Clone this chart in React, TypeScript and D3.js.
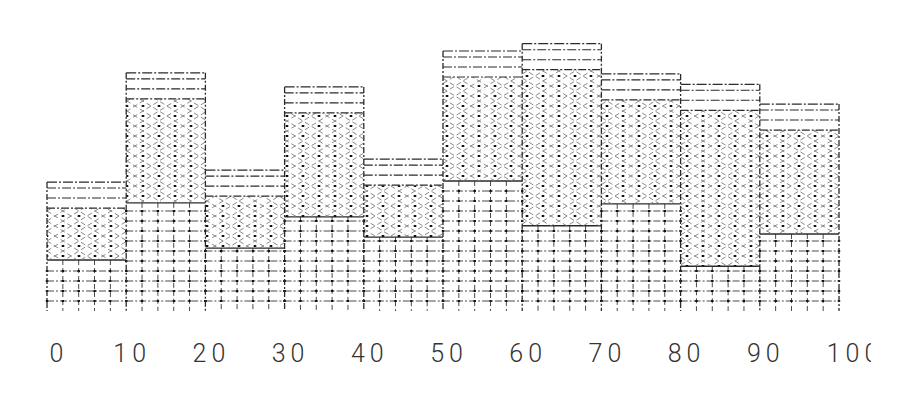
import React from "react";
import * as d3 from "d3";

// Bin edges and tick labels
const binEdges = [0, 10, 20, 30, 40, 50, 60, 70, 80, 90, 100];
const tickLabels = ["0", "10", "20", "30", "40", "50", "60", "70", "80", "90", "100"];
// Stacked series (bottom -> top)
const gridSeries = [9.8, 20.8, 12.1, 18.1, 14.2, 25.0, 16.4, 20.6, 8.6, 14.8];
const hatchSeries = [10, 20, 10, 20, 10, 20, 30, 20, 30, 20];
const lineSeries = [5, 5, 5, 5, 5, 5, 5, 5, 5, 5];

const W = 909;
const H = 405;
const X0 = 47;
const X1 = 839;
const BASE = 311;

const x = d3.scaleLinear().domain([0, 100]).range([X0, X1]);
const y = d3.scaleLinear().domain([0, 60]).range([BASE, BASE - 60 * 5.2]);

const INK = "#2a2a2a";
const SOFT = "#4a4a4a";

type Seg = { i: number; kind: "grid" | "hatch" | "lines"; x0: number; x1: number; yb: number; yt: number };

function buildSegments(): Seg[] {
  const segs: Seg[] = [];
  for (let i = 0; i < gridSeries.length; i++) {
    const x0 = x(binEdges[i]);
    const x1 = x(binEdges[i + 1]);
    const a = gridSeries[i];
    const b = a + hatchSeries[i];
    const c = b + lineSeries[i];
    segs.push({ i, kind: "grid", x0, x1, yb: y(0), yt: y(a) });
    segs.push({ i, kind: "hatch", x0, x1, yb: y(a), yt: y(b) });
    segs.push({ i, kind: "lines", x0, x1, yb: y(b), yt: y(c) });
  }
  return segs;
}

function GridSeg({ s }: { s: Seg }) {
  const w = s.x1 - s.x0;
  const els: React.ReactNode[] = [];
  const verts = [1, 2, 3, 4].map((k) => s.x0 + (w / 5) * k);
  const hs: number[] = [];
  for (let yy = BASE - 10; yy > s.yt + 2; yy -= 10) hs.push(yy);
  hs.forEach((yy, k) =>
    els.push(<line key={"h" + k} x1={s.x0} x2={s.x1} y1={yy} y2={yy} stroke={SOFT} strokeWidth={1} strokeDasharray="7 2 2 2" />)
  );
  verts.forEach((xx, k) =>
    els.push(<line key={"v" + k} x1={xx} x2={xx} y1={s.yt} y2={BASE} stroke={SOFT} strokeWidth={1} strokeDasharray="5 3" />)
  );
  hs.forEach((yy, a) =>
    [s.x0, ...verts, s.x1].forEach((xx, b) =>
      els.push(<rect key={"d" + a + "_" + b} x={xx - 1.2} y={yy - 1} width={2.4} height={2} fill="#111" />)
    )
  );
  els.push(<line key="top" x1={s.x0} x2={s.x1} y1={s.yt} y2={s.yt} stroke={INK} strokeWidth={1.4} />);
  return <g>{els}</g>;
}

function HatchSeg({ s }: { s: Seg }) {
  const els: React.ReactNode[] = [];
  const id = "clip-h-" + s.i;
  const uMin = Math.floor((s.x0 - X0) / 16 - (BASE - s.yt) / 10) - 1;
  const uMax = Math.ceil((s.x1 - X0) / 16 - (BASE - s.yb) / 10) + 1;
  for (let u = uMin; u <= uMax; u++) {
    const ya = BASE - 10 * ((s.x0 - X0) / 16 - u);
    const yb = BASE - 10 * ((s.x1 - X0) / 16 - u);
    els.push(<line key={"u" + u} x1={s.x0} x2={s.x1} y1={ya} y2={yb} stroke="#7a7a7a" strokeWidth={0.9} strokeDasharray="5 3" />);
  }
  const vMin = Math.floor((s.x0 - X0) / 16 + (BASE - s.yb) / 10) - 1;
  const vMax = Math.ceil((s.x1 - X0) / 16 + (BASE - s.yt) / 10) + 1;
  for (let v = vMin; v <= vMax; v++) {
    const ya = BASE - 10 * (v - (s.x0 - X0) / 16);
    const yb = BASE - 10 * (v - (s.x1 - X0) / 16);
    els.push(<line key={"v" + v} x1={s.x0} x2={s.x1} y1={ya} y2={yb} stroke="#7a7a7a" strokeWidth={0.9} strokeDasharray="5 3" />);
  }
  for (let xx = X0; xx <= X1 + 1; xx += 16) {
    if (xx < s.x0 - 0.5 || xx > s.x1 + 0.5) continue;
    for (let yy = BASE - 5; yy > s.yt; yy -= 10) {
      if (yy >= s.yb) continue;
      els.push(<rect key={"d" + xx + "_" + yy} x={xx - 1.3} y={yy - 1} width={2.6} height={2} fill="#111" />);
    }
  }
  return (
    <g>
      <defs>
        <clipPath id={id}>
          <rect x={s.x0} y={s.yt} width={s.x1 - s.x0} height={s.yb - s.yt} />
        </clipPath>
      </defs>
      <g clipPath={`url(#${id})`}>{els}</g>
      <line x1={s.x0} x2={s.x1} y1={s.yt} y2={s.yt} stroke={INK} strokeWidth={1.2} strokeDasharray="8 2 2 2" />
    </g>
  );
}

function LinesSeg({ s }: { s: Seg }) {
  const els: React.ReactNode[] = [];
  for (let yy = s.yb - 10; yy > s.yt + 2; yy -= 10) {
    els.push(<line key={"l" + yy} x1={s.x0} x2={s.x1} y1={yy} y2={yy} stroke={INK} strokeWidth={1.1} strokeDasharray="9 2 2 2" />);
  }
  els.push(<line key="top" x1={s.x0} x2={s.x1} y1={s.yt} y2={s.yt} stroke={INK} strokeWidth={1.2} strokeDasharray="10 2 2 2" />);
  return <g>{els}</g>;
}

export default function App() {
  const segs = buildSegments();
  const tops = gridSeries.map((g, i) => g + hatchSeries[i] + lineSeries[i]);
  return (
    <svg width={W} height={H} viewBox={`0 0 ${W} ${H}`} style={{ position: "absolute", left: 0, top: 0, background: "#fff" }}>
      <defs>
        <clipPath id="labelclip">
          <rect x={0} y={0} width={871} height={H} />
        </clipPath>
      </defs>
      <rect x={0} y={0} width={W} height={H} fill="#fff" />
      {segs.map((s, k) =>
        s.kind === "grid" ? <GridSeg key={k} s={s} /> : s.kind === "hatch" ? <HatchSeg key={k} s={s} /> : <LinesSeg key={k} s={s} />
      )}
      {binEdges.map((e, k) => {
        const left = k > 0 ? tops[k - 1] : 0;
        const right = k < tops.length ? tops[k] : 0;
        const hi = Math.max(left, right);
        return (
          <line key={"e" + k} x1={x(e)} x2={x(e)} y1={y(hi)} y2={BASE} stroke={INK} strokeWidth={1.3} strokeDasharray="6 2 2 2" />
        );
      })}
      <g clipPath="url(#labelclip)">
        {tickLabels.map((t, k) => (
          <text
            key={t}
            x={x(binEdges[k]) + (t.length === 1 ? 12 : t.length === 3 ? 16 : 6)}
            y={362}
            textAnchor="middle"
            fontFamily="Roboto, 'DejaVu Sans'"
            fontWeight={300}
            fontSize={25}
            letterSpacing={5}
            fill="#333"
          >
            {t}
          </text>
        ))}
      </g>
    </svg>
  );
}
